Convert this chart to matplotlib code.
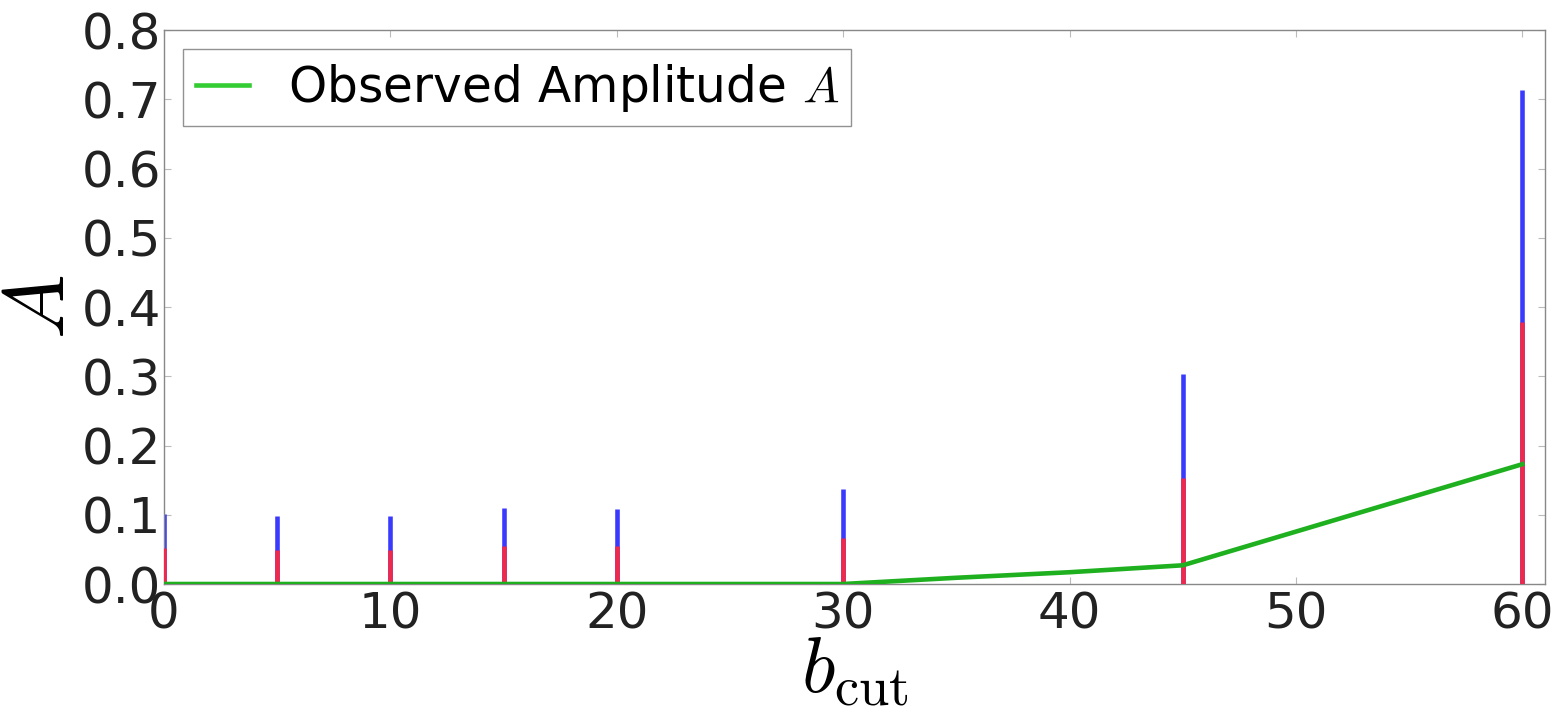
import matplotlib.pyplot as plt

plt.rcParams['mathtext.fontset'] = 'cm'

# b_cut values where the error bars are drawn
b_cut = [0, 5, 10, 15, 20, 30, 45, 60]
# upper (blue) and lower (red) bar heights
upper_A = [0.101, 0.098, 0.098, 0.110, 0.108, 0.137, 0.303, 0.713]
lower_A = [0.052, 0.049, 0.049, 0.055, 0.055, 0.066, 0.153, 0.378]

# observed amplitude curve
obs_b = [0, 5, 10, 15, 20, 30, 35, 40, 45, 60]
obs_A = [0, 0, 0, 0, 0, 0, 0.009, 0.017, 0.027, 0.173]

fig = plt.figure(figsize=(15.68, 7.06), dpi=100)
ax = fig.add_axes([0.1046, 0.1728, 0.8807, 0.7847])

# blue from 0 to upper, red drawn over from 0 to lower
ax.vlines(b_cut, 0, upper_A, colors='#3a3aff', linewidth=3.3, zorder=2)
ax.vlines(b_cut, 0, lower_A, colors='#f0284a', linewidth=3.3, zorder=3)
ax.plot(obs_b, obs_A, color='#1fb01f', linewidth=3.3, zorder=4,
        label='Observed Amplitude $A$')

ax.set_xlim(0, 61)
ax.set_ylim(0, 0.8)
ax.set_xticks([0, 10, 20, 30, 40, 50, 60])
ax.set_yticks([0, 0.1, 0.2, 0.3, 0.4, 0.5, 0.6, 0.7, 0.8])
ax.set_yticklabels(['0.0', '0.1', '0.2', '0.3', '0.4', '0.5', '0.6', '0.7', '0.8'])
ax.tick_params(direction='in', top=True, right=True, labelsize=36,
               length=5, color='#bbbbbb', labelcolor='#222222')
ax.tick_params(axis='y', pad=2)
ax.tick_params(axis='x', pad=5)
for s in ax.spines.values():
    s.set_color('#888888')
    s.set_linewidth(1.0)

ax.set_xlabel(r'$b_{\rm cut}$', fontsize=56, labelpad=-5)
ax.set_ylabel(r'$A$', fontsize=62, labelpad=0)

leg = ax.legend(loc='upper left', fontsize=35, handlelength=1.1,
                handletextpad=0.8, borderaxespad=0.4, fancybox=False,
                borderpad=0.25)
leg.get_frame().set_edgecolor('#777777')
leg.get_frame().set_linewidth(1.0)
leg.get_lines()[0].set_color('#33cc33')

fig.savefig('out.png', dpi=100)
